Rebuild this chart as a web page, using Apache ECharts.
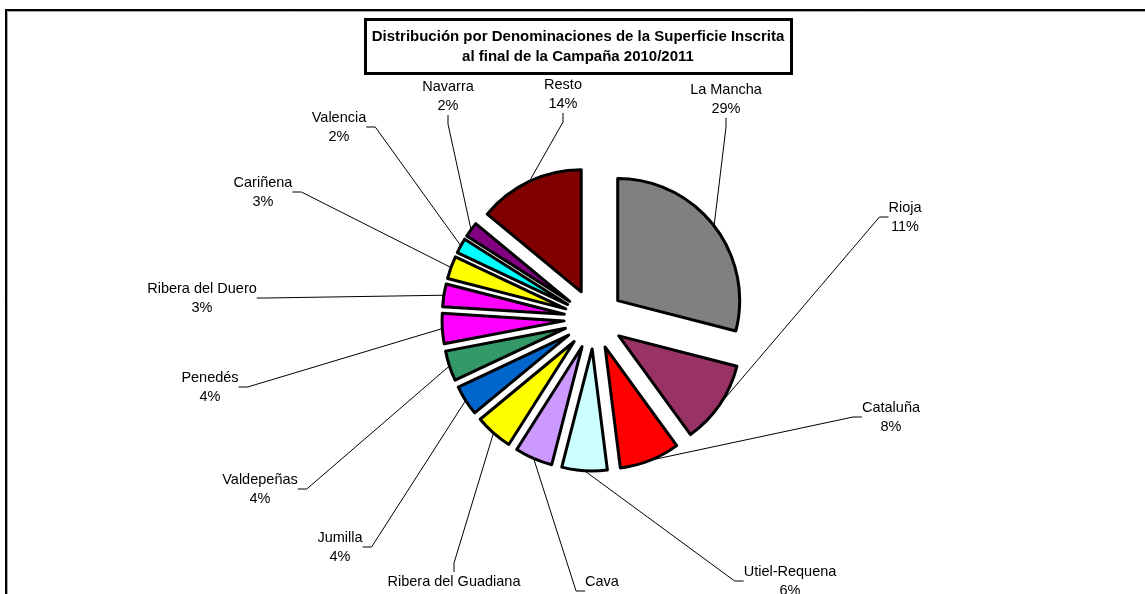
<!DOCTYPE html>
<html>
<head>
<meta charset="utf-8">
<title>Distribución por Denominaciones</title>
<script src="https://cdn.jsdelivr.net/npm/echarts@6/dist/echarts.min.js"></script>
<style>
  html, body { margin: 0; padding: 0; background: #fff; }
  #chart { width: 1145px; height: 594px; }
</style>
</head>
<body>
<div id="chart"></div>
<script>
// datos (porcentaje de superficie inscrita)
const names = ["La Mancha", "Rioja", "Cataluña", "Utiel-Requena", "Cava", "Ribera del Guadiana",
  "Jumilla", "Valdepeñas", "Penedés", "Ribera del Duero", "Cariñena", "Valencia", "Navarra", "Resto"];
const shares = [29, 11, 8, 6, 5, 5, 4, 4, 4, 3, 3, 2, 2, 14];

// estilo
const colors = ["#808080", "#993366", "#FF0000", "#CCFFFF", "#CC99FF", "#FFFF00",
  "#0066CC", "#339966", "#FF00FF", "#FF00FF", "#FFFF00", "#00FFFF", "#800080", "#800000"];
// posicion de las etiquetas (centro del texto), como en el original
const labelX = [726, 905, 891, 790, 602, 454, 340, 260, 210, 202, 263, 339, 448, 563];
const labelY = [99, 217, 417, 581, 591, 591, 547, 489, 387, 298, 192, 127, 96, 94];

const titleLines = ["Distribución por Denominaciones de la Superficie Inscrita",
  "al final de la Campaña 2010/2011"];

const CENTER = [594, 319];
const R = 122;
const OFFSET = 30;

let chart = echarts.init(document.getElementById("chart"));

// linea guia estilo Excel: desde el arco hasta el lado de la etiqueta, con tramo corto
function guideLayout(params) {
  const i = params.dataIndex;
  const cx = labelX[i], cy = labelY[i];
  const out = { x: cx, y: cy, align: "center", verticalAlign: "middle" };
  const pts = params.labelLinePoints;
  if (!pts || !params.labelRect) return out;
  const w = params.labelRect.width, h = params.labelRect.height;
  const p0 = pts[0];
  const dx = cx - p0[0], dy = cy - p0[1];
  let end, dir;
  if (Math.abs(dx) < 0.45 * Math.abs(dy)) {
    dir = dy > 0 ? [0, -1] : [0, 1];
    end = [cx, cy + dir[1] * h / 2];
  } else {
    dir = dx > 0 ? [-1, 0] : [1, 0];
    end = [cx + dir[0] * w / 2, cy];
  }
  const mid = [end[0] + dir[0] * 9, end[1] + dir[1] * 9];
  out.labelLinePoints = [[p0[0], p0[1]], mid, end];
  return out;
}

let options = {
  animation: false,
  backgroundColor: "#fff",
  graphic: [
    // marco del grafico
    { type: "rect", shape: { x: 6, y: 10, width: 1300, height: 800 },
      style: { fill: "none", stroke: "#000", lineWidth: 2 }, z: 1 },
    { type: "rect", shape: { x: 7.5, y: 11.5, width: 1300, height: 800 },
      style: { fill: "none", stroke: "#aaa", lineWidth: 1 }, z: 1 },
    // caja del titulo
    { type: "rect", shape: { x: 365.5, y: 19.5, width: 426, height: 54 },
      style: { fill: "#fff", stroke: "#000", lineWidth: 3 }, z: 10 },
    { type: "text", x: 578, y: 47, z: 11,
      style: {
        text: titleLines.join("\n"),
        fontFamily: "Liberation Sans",
        fontWeight: "bold",
        fontSize: 15,
        lineHeight: 20,
        fill: "#000",
        align: "center",
        verticalAlign: "middle"
      } }
  ],
  series: [
    {
      // porciones separadas
      type: "pie",
      center: CENTER,
      radius: R,
      startAngle: 90,
      clockwise: true,
      selectedMode: "multiple",
      selectedOffset: OFFSET,
      avoidLabelOverlap: false,
      itemStyle: { borderColor: "#000", borderWidth: 3 },
      select: { itemStyle: { borderColor: "#000", borderWidth: 3 } },
      emphasis: { disabled: true },
      label: { show: false },
      labelLine: { show: false },
      z: 2,
      data: names.map((n, i) => ({
        name: n,
        value: shares[i],
        selected: true,
        itemStyle: { color: colors[i] }
      }))
    },
    {
      // solo etiquetas y lineas guia
      type: "pie",
      center: CENTER,
      radius: R + OFFSET,
      startAngle: 90,
      clockwise: true,
      silent: true,
      avoidLabelOverlap: false,
      itemStyle: { color: "rgba(0,0,0,0)", borderWidth: 0 },
      emphasis: { disabled: true },
      label: {
        show: true,
        position: "outside",
        formatter: p => p.name + "\n" + Math.round(p.percent) + "%",
        fontFamily: "Liberation Sans",
        fontSize: 14.5,
        lineHeight: 19,
        color: "#000",
        align: "center"
      },
      labelLine: {
        show: true,
        length: 20,
        length2: 9,
        smooth: false,
        lineStyle: { color: "#000", width: 1 }
      },
      labelLayout: guideLayout,
      z: 3,
      data: names.map((n, i) => ({ name: n, value: shares[i] }))
    }
  ]
};

chart.setOption(options);
</script>
</body>
</html>
